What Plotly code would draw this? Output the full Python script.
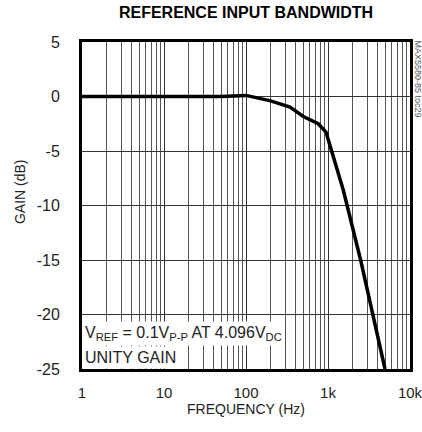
import plotly.graph_objects as go

# frequency response
freq_hz = [1, 10, 50, 100, 200, 344, 500, 760, 946, 1538, 2500, 4955]
gain_db = [0, 0, 0, 0.1, -0.4, -0.98, -1.83, -2.5, -3.27, -8.6, -15.0, -25.0]

y_tickvals = [5, 0, -5, -10, -15, -20, -25]
y_ticktext = ["5", "0", "-5", "-10", "-15", "-20", "-25"]

FONT = "Liberation Sans, Arial, sans-serif"

fig = go.Figure()

fig.add_trace(go.Scatter(
    x=freq_hz,
    y=gain_db,
    mode='lines',
    line=dict(color='black', width=3.5),
    showlegend=False,
))

fig.update_layout(
    width=422,
    height=432,
    margin=dict(l=82, r=12, t=42, b=63),
    paper_bgcolor='white',
    plot_bgcolor='white',
    font=dict(family=FONT, size=15, color='#222'),
    title=dict(
        text='<b>REFERENCE INPUT BANDWIDTH</b>',
        x=0.583, xanchor='center', y=1, yanchor='top',
        pad=dict(t=7),
        font=dict(family=FONT, size=16, color='black'),
    ),
    xaxis=dict(
        type='log',
        range=[0, 4],
        dtick=1,
        tickformat='~s',
        showgrid=True,
        gridcolor='#333',
        gridwidth=1,
        minor=dict(showgrid=True, gridcolor='#555', gridwidth=1),
        showline=True, linecolor='black', linewidth=3, mirror=True,
        ticks='',
        ticklabelstandoff=8,
        ticklabeloverflow='allow',
        title=dict(text='FREQUENCY (Hz)', standoff=2, font=dict(size=14)),
        zeroline=False,
        automargin=False,
    ),
    yaxis=dict(
        range=[-25, 5],
        tickvals=y_tickvals,
        ticktext=y_ticktext,
        tickfont=dict(size=16),
        showgrid=True,
        gridcolor='#333',
        gridwidth=1,
        showline=True, linecolor='black', linewidth=3, mirror=True,
        ticks='',
        ticklabelstandoff=16,
        zeroline=False,
        automargin=False,
    ),
)

# y-axis title sits a little above the middle in the original
fig.add_annotation(
    x=-0.189, y=0.541, xref='paper', yref='paper', xanchor='center', yanchor='middle',
    text='GAIN (dB)', textangle=-90,
    showarrow=False, font=dict(size=14, color='#222'),
)

fig.add_annotation(
    x=0, y=-20.6, xref='x', yref='y', xanchor='left', yanchor='top',
    text='V<sub>REF</sub> = 0.1V<sub>P-P</sub> AT 4.096V<sub>DC</sub>',
    showarrow=False, bgcolor='white', font=dict(size=16, color='#222'),
    borderpad=2,
)
fig.add_annotation(
    x=0, y=-22.9, xref='x', yref='y', xanchor='left', yanchor='top',
    text='UNITY GAIN',
    showarrow=False, bgcolor='white', font=dict(size=16, color='#222'),
    borderpad=2,
)
fig.add_annotation(
    x=1.0, y=1.0, xref='paper', yref='paper', xanchor='left', yanchor='top',
    xshift=1, yshift=4,
    text='MAX5580-85 toc29', textangle=90,
    showarrow=False, font=dict(size=9, color='#555'),
)

# drop the browser's default body margin so the figure sits at the page corner
fig.write_html(
    "out.html",
    config={'displayModeBar': False},
    post_script="document.body.style.margin='0';",
)
